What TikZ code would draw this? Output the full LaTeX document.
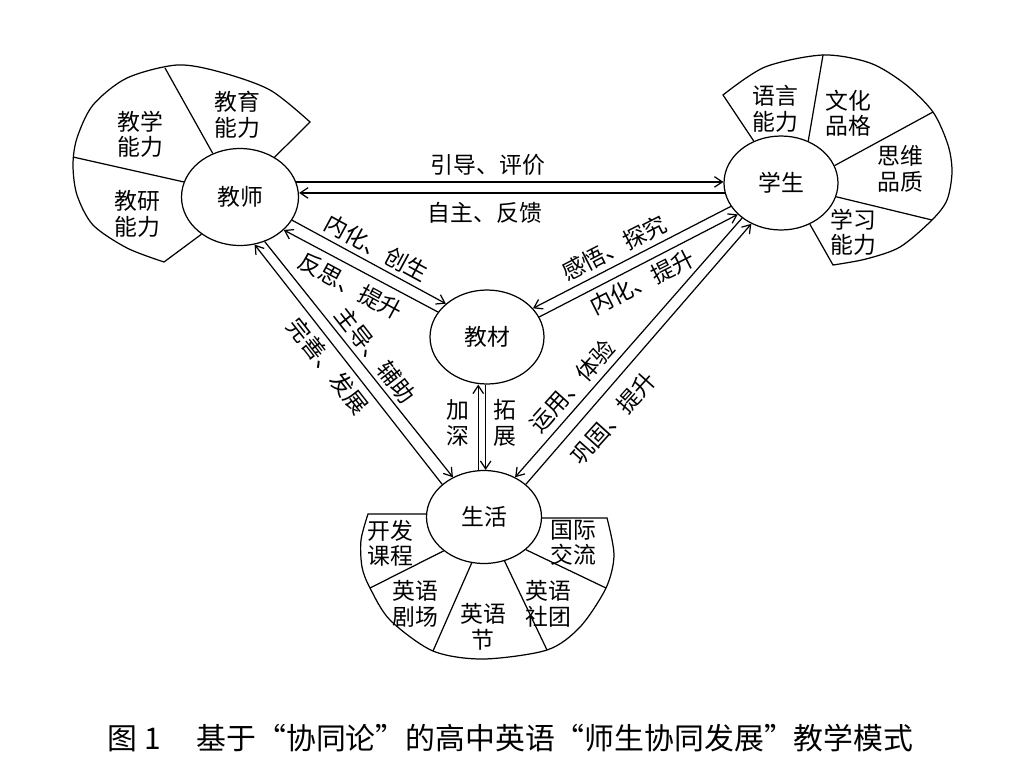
\documentclass[tikz,border=0pt]{standalone}
\usepackage{fontspec}
\newfontfamily\cjk{Noto Sans CJK SC}
\usetikzlibrary{arrows.meta,shapes.geometric}
\begin{document}
\begin{tikzpicture}[x=0.02cm,y=-0.02cm,line width=0.7pt,>={Straight Barb[length=4.5pt,width=6pt]}]
\tikzset{every node/.style={align=center, inner sep=0pt, font=\cjk\fontsize{13}{14.5}\selectfont},
hub/.style={ellipse, draw, minimum width=2.28cm, minimum height=1.88cm}}
\useasboundingbox (0,0) rectangle (1010,768);

\node[hub, minimum width=2.34cm, minimum height=1.94cm] (teacher) at (240,197) {教师};
\node[hub] (student) at (781,183) {学生};
\node[hub] (material) at (487,337) {教材};
\node[hub, minimum width=2.3cm, minimum height=1.86cm] (life) at (484,517) {生活};

\draw (teacher.49) -- plot[smooth] coordinates {(310,122) (270,90) (220,72) (177,65) (127,78) (93,105) (77,138) (73,165) (77,195) (93,225) (127,248) (164,262)} -- (teacher.224);
\draw (165,68) -- (teacher.122);
\draw (73,157) -- (teacher.165);
\node at (140,134) {教学\\能力};
\node at (237,115) {教育\\能力};
\node at (137,214) {教研\\能力};

\draw (student.123) -- plot[smooth] coordinates {(723,95) (765,67) (823,55) (870,63) (905,84) (933,112) (948,145) (952,172) (947,200) (932,220) (900,247) (866,259) (833,265)} -- (student.-55);
\draw (823,55) -- (student.57);
\draw (933,112) -- (student.18);
\draw (932,220) -- (student.-14);
\node at (775,109) {语言\\能力};
\node at (848,113) {文化\\品格};
\node at (900,169) {思维\\品质};
\node at (853,232) {学习\\能力};

\draw (life.177) -- plot[smooth] coordinates {(368,514) (361,540) (362,567) (370,588) (390,620) (433,651) (483,659) (547,650) (580,627) (606,588) (614,555) (607,518)} -- (life.-1);
\draw (370,588) -- (life.220);
\draw (433,651) -- (life.255);
\draw (547,650) -- (life.-65);
\draw (606,588) -- (life.-38);
\node at (390,543) {开发\\课程};
\node at (415,604) {英语\\剧场};
\node at (483,627) {英语\\节};
\node at (548,604) {英语\\社团};
\node at (573,543) {国际\\交流};

\draw[->] (teacher.15) -- (teacher.15 -| student.west);
\draw[->] (student.190) -- (student.190 -| teacher.east);
\node at (488,165) {引导、评价};
\node at (485,213) {自主、反馈};

\draw[->] (teacher.-24) -- (material.141);
\draw[->] (material.153) -- (teacher.-37);
\node[rotate=-28.5] at (377,248) {内化、创生};
\node[rotate=-28.5] at (351,286) {反思、提升};

\draw[->] (teacher.-61) -- (life.128);
\draw[->] (life.142) -- (teacher.-73);
\node[rotate=-52] at (375,355) {主导、辅助};
\node[rotate=-52] at (328,366) {完善、发展};

\draw[->] (student.205) -- (material.32);
\draw[->] (material.21) -- (student.216);
\node[rotate=27] at (614,248) {感悟、探究};
\node[rotate=27] at (642,282) {内化、提升};

\draw[->] (student.222) -- (life.52);
\draw[->] (life.38) -- (student.234);
\node[rotate=48] at (572,386) {运用、体验};
\node[rotate=48] at (613,418) {巩固、提升};

\draw[->] (life.97) -- (life.97 |- material.south);
\draw[->] (life.88 |- material.south) -- (life.88);
\node at (458,423) {加\\深};
\node at (505,423) {拓\\展};

\node[anchor=west, font=\cjk\fontsize{17}{20}\selectfont] (caption) at (107,738) {图~1\hspace{1.2em}基于“协同论”的高中英语“师生协同发展”教学模式};
\end{tikzpicture}
\end{document}
